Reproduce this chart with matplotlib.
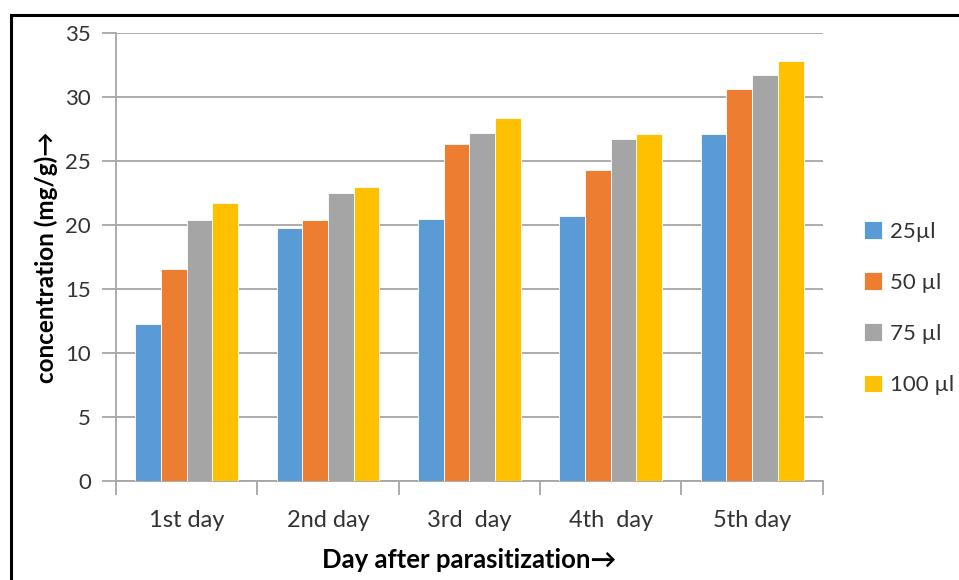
import numpy as np
import matplotlib
matplotlib.use('Agg')
from matplotlib import pyplot as plt
from matplotlib.patches import Rectangle

plt.rcParams['font.family'] = ['Lato', 'DejaVu Sans']

days = ['1st day', '2nd day', '3rd  day', '4th  day', '5th day']
series_names = ['25\u00b5l', '50 \u00b5l', '75 \u00b5l', '100 \u00b5l']
v25 = [12.3, 19.8, 20.5, 20.7, 27.1]
v50 = [16.6, 20.4, 26.3, 24.3, 30.6]
v75 = [20.4, 22.5, 27.2, 26.7, 31.7]
v100 = [21.7, 23.0, 28.4, 27.1, 32.8]
colors = ['#5B9BD5', '#ED7D31', '#A5A5A5', '#FFC000']
yticks = [0, 5, 10, 15, 20, 25, 30, 35]

fig = plt.figure(figsize=(9.59, 5.8), dpi=100)
ax = fig.add_axes([0.121, 0.1707, 0.737, 0.7723])

x = np.arange(len(days))
w = 1 / 5.5
for i, (vals, c, name) in enumerate(zip([v25, v50, v75, v100], colors, series_names)):
    ax.bar(x + (i - 1.5) * w, vals, w, color=c, edgecolor='white', linewidth=0.6,
           label=name, zorder=3)

ax.set_xlim(-0.5, 4.5)
ax.set_ylim(0, 35)
ax.set_yticks(yticks)
ax.grid(axis='y', color='#A6A6A6', linewidth=1.3, zorder=0)
ax.set_axisbelow(True)

for s in ['top', 'right']:
    ax.spines[s].set_visible(False)
for s in ['left', 'bottom']:
    ax.spines[s].set_color('#A6A6A6')
    ax.spines[s].set_linewidth(1.3)

ax.set_xticks(x)
ax.set_xticklabels(days)
ax.set_xticks(np.arange(-0.5, 5, 1), minor=True)
ax.tick_params(axis='x', which='major', length=0, pad=21, labelsize=17)
ax.tick_params(axis='x', which='minor', length=10, width=1.3, color='#A6A6A6')
ax.tick_params(axis='y', length=10, width=1.3, color='#A6A6A6', pad=8, labelsize=16,
               labelcolor='#333333')
for lbl in ax.get_xticklabels():
    lbl.set_color('#333333')

ax.set_xlabel('Day after parasitization\u2192', fontsize=18.5, fontweight='bold', labelpad=12)
ax.set_ylabel('concentration (mg/g)\u2192', fontsize=17.5, fontweight='bold', labelpad=5)

leg = ax.legend(loc='center left', bbox_to_anchor=(1.03, 0.386), frameon=False,
                fontsize=16, handlelength=0.8, handleheight=0.85, handletextpad=0.35,
                labelspacing=1.38)
for t in leg.get_texts():
    t.set_color('#333333')

# outer frame of the original figure
fig.patches.append(Rectangle((0.0115, -0.05), 1.1, 1.025, transform=fig.transFigure,
                             fill=False, edgecolor='black', linewidth=2.2))

fig.savefig('out.png', dpi=100)
